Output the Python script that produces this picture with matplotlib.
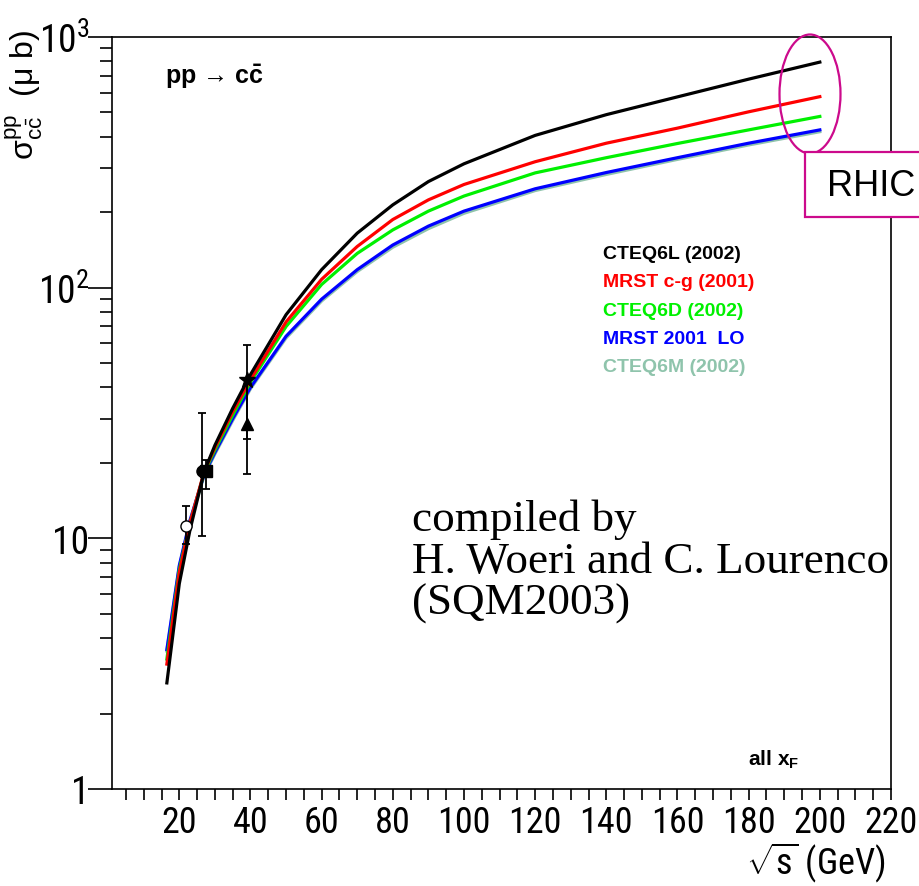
import matplotlib
matplotlib.use("Agg")
import matplotlib.pyplot as plt
from matplotlib import font_manager
from matplotlib.patches import Ellipse, Rectangle

# ---------------------------------------------------------------- data
sqrt_s = [16.5, 20, 23, 27, 30, 35, 40, 50, 60, 70, 80, 90, 100, 120, 140, 160, 180, 200]
cteq6l = [2.65, 6.6, 10.8, 18.5, 23.5, 33, 45, 78, 118, 165, 214, 265, 312, 405, 490, 577, 679, 794]
mrst_cg = [3.15, 7.3, 11.5, 18.5, 23, 32, 43, 73, 108, 146, 187, 224, 258, 318, 377, 433, 503, 578]
cteq6d = [3.3, 7.5, 11.5, 18.3, 22.5, 31, 42, 70, 103, 137, 170, 202, 232, 287, 330, 376, 426, 482]
mrst_lo = [3.6, 7.8, 11.8, 18.0, 22, 30, 40, 64, 90, 118, 148, 176, 202, 248, 288, 330, 377, 426]
cteq6m = [3.55, 7.7, 11.6, 17.8, 21.7, 29.5, 39.5, 63, 88.5, 116, 145, 172, 198, 244, 283, 325, 371, 419]

series_names = ["CTEQ6L (2002)", "MRST c-g (2001)", "CTEQ6D (2002)", "MRST 2001  LO", "CTEQ6M (2002)"]
series_vals = [cteq6l, mrst_cg, cteq6d, mrst_lo, cteq6m]
series_cols = ["black", "#ff0000", "#00f000", "#0000ff", "#8fc4ac"]

# measurements: x, y, lower, upper, marker, filled
meas_x = [21.9, 26.4, 27.5, 38.9, 38.9]
meas_y = [11.2, 18.5, 18.5, 43.0, 28.5]
meas_lo = [9.5, 10.2, 15.7, 24.8, 18.0]
meas_hi = [13.4, 31.7, 20.6, 58.8, 43.0]
meas_mk = ["o", "o", "s", "*", "^"]
meas_fill = [False, True, True, True, True]

# ---------------------------------------------------------------- fonts
have = {f.name for f in font_manager.fontManager.ttflist}
tickfont, ticksize = "Liberation Sans", 22
for cand in ["Liberation Sans Narrow", "Roboto Condensed", "Arial Narrow", "Open Sans Condensed"]:
    if cand in have:
        tickfont, ticksize = cand, 26
        break
plt.rcParams["font.family"] = ["Liberation Sans", "DejaVu Sans"]
plt.rcParams["mathtext.fontset"] = "custom"
plt.rcParams["mathtext.rm"] = tickfont
plt.rcParams["mathtext.it"] = "Liberation Sans:italic"
plt.rcParams["mathtext.bf"] = "Liberation Sans:bold"

W, H = 920, 887
fig = plt.figure(figsize=(W / 100, H / 100), dpi=100)
L, R, T, B = 111.7, 891, 38, 790
ax = fig.add_axes([L / W, 1 - B / H, (R - L) / W, (B - T) / H])


def fx(px):
    return px / W


def fy(py):
    return 1 - py / H


# curves: draw the light one first so blue sits on top
for i in [4, 3, 2, 1, 0]:
    ax.plot(sqrt_s, series_vals[i], color=series_cols[i], lw=2.3, solid_joinstyle="round")

for x, y, lo, hi, mk, fill in zip(meas_x, meas_y, meas_lo, meas_hi, meas_mk, meas_fill):
    ax.errorbar([x], [y], yerr=[[y - lo], [hi - y]], fmt=mk, color="black", ms=12 if mk == "*" else 8,
                mfc="black" if fill else "white", mec="black", ecolor="black", elinewidth=1.3,
                capsize=3, capthick=1.3, zorder=5)

ax.set_yscale("log")
ax.set_xlim(1, 220)
ax.set_ylim(1, 1000)

ax.set_xticks(range(20, 221, 20))
ax.set_xticks(range(5, 221, 5), minor=True)
ax.set_xticklabels([str(v) for v in range(20, 221, 20)])
ax.set_yticks([1, 10, 100, 1000])
ax.set_yticklabels(["1", "10", r"$\mathregular{10^{2}}$", r"$\mathregular{10^{3}}$"])
for lab in ax.get_xticklabels():
    lab.set_fontfamily(tickfont)
    lab.set_fontsize(ticksize)
for lab in ax.get_yticklabels():
    lab.set_fontfamily(tickfont)
    lab.set_fontsize(ticksize + 1)

ax.tick_params(axis="x", which="both", direction="out", length=8, width=1.2, pad=3)
ax.tick_params(axis="y", which="major", direction="out", length=17, width=1.2, pad=-1)
ax.tick_params(axis="y", which="minor", direction="out", length=9, width=1.2)
ax.yaxis.set_minor_formatter(matplotlib.ticker.NullFormatter())
for s in ax.spines.values():
    s.set_linewidth(1.2)

# legend as coloured text
for k, (name, col) in enumerate(zip(series_names, series_cols)):
    ax.text(0.630, 0.712 - k * 0.0376, name, transform=ax.transAxes, color=col,
            fontsize=14, fontweight="bold", va="center", ha="left")

ax.text(0.068, 0.948, r"pp → c$\mathbf{\bar{c}}$", transform=ax.transAxes,
        fontsize=18, fontweight="bold", va="center", ha="left")
ax.text(0.817, 0.040, r"all x$_{\mathbf{F}}$", transform=ax.transAxes,
        fontsize=15, fontweight="bold", va="center", ha="left")

ax.text(0.385, 0.386, "compiled by\nH. Woeri and C. Lourenco\n(SQM2003)", transform=ax.transAxes,
        family="Liberation Serif", fontsize=32.5, va="top", ha="left", linespacing=1.05)

# axis titles
fig.text(fx(24), fy(30), r"$\mathregular{σ^{pp}_{c\bar{c}}}$  (μ b)", rotation=90, ha="center", va="top",
         fontsize=23)
fig.text(fx(886), fy(863), r"$\sqrt{\mathregular{s}}$ (GeV)", ha="right", va="center",
         family=tickfont, fontsize=ticksize)

# RHIC marker
mag = "#cc0a8c"
fig.patches.append(Ellipse((fx(810), fy(95)), fx(61), 119 / H, transform=fig.transFigure,
                           fill=False, edgecolor=mag, lw=1.6))
fig.patches.append(Rectangle((fx(805), fy(218)), fx(130), 65 / H, transform=fig.transFigure,
                             fill=True, facecolor="white", edgecolor=mag, lw=1.6))
fig.text(fx(827), fy(186), "RHIC", ha="left", va="center", fontsize=26, family="Liberation Sans")

fig.savefig("out.png", dpi=100)
